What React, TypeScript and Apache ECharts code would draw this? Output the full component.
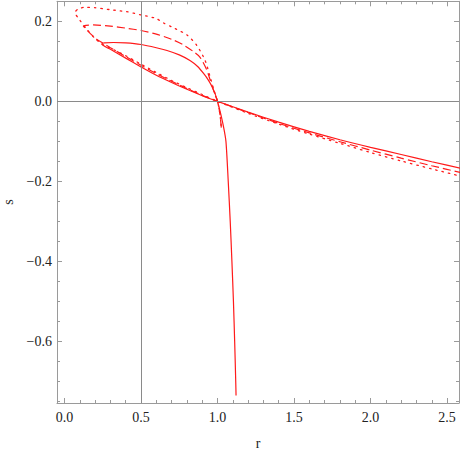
import React, { useEffect, useRef } from "react";
import * as echarts from "echarts";

// Solid curve (lower branch from the right, cusp, upper branch down to the end)
const solidR = [2.6, 2.4, 2.2, 2.0, 1.8, 1.6, 1.4, 1.2, 1.0, 0.9, 0.8, 0.7, 0.6, 0.5, 0.4, 0.3, 0.243,
  0.26, 0.32, 0.4, 0.5, 0.6, 0.67, 0.75, 0.82, 0.87, 0.91, 0.94, 0.965, 0.985, 1.0, 1.02, 1.04, 1.055,
  1.07, 1.083, 1.094, 1.104, 1.112, 1.119, 1.121];
const solidS = [-0.168, -0.151, -0.133, -0.115, -0.096, -0.075, -0.052, -0.027, 0.0, 0.014, 0.03, 0.047, 0.065, 0.086, 0.108, 0.13, 0.143,
  0.146, 0.147, 0.146, 0.142, 0.134, 0.127, 0.116, 0.102, 0.087, 0.069, 0.053, 0.036, 0.018, 0.0, -0.03, -0.065, -0.1,
  -0.2, -0.3, -0.4, -0.5, -0.6, -0.7, -0.735];

// Dashed curve
const dashedR = [2.6, 2.4, 2.2, 2.0, 1.8, 1.6, 1.4, 1.2, 1.0, 0.9, 0.8, 0.7, 0.6, 0.5, 0.4, 0.3, 0.25, 0.21, 0.167, 0.135, 0.123,
  0.14, 0.188, 0.3, 0.4, 0.5, 0.6, 0.7, 0.777, 0.84, 0.886, 0.93, 0.962, 0.985, 1.0, 1.015, 1.027];
const dashedS = [-0.179, -0.161, -0.142, -0.122, -0.101, -0.079, -0.055, -0.028, 0.0, 0.015, 0.032, 0.05, 0.069, 0.09, 0.112, 0.134, 0.146, 0.155, 0.17, 0.183, 0.188,
  0.19, 0.191, 0.188, 0.183, 0.177, 0.168, 0.155, 0.141, 0.125, 0.11, 0.078, 0.041, 0.015, 0.0, -0.03, -0.075];

// Dotted curve
const dottedR = [2.6, 2.4, 2.2, 2.0, 1.8, 1.6, 1.4, 1.2, 1.0, 0.9, 0.8, 0.7, 0.6, 0.5, 0.4, 0.3, 0.25, 0.2, 0.15, 0.1, 0.069,
  0.09, 0.13, 0.2, 0.3, 0.406, 0.5, 0.6, 0.646, 0.7, 0.8, 0.864, 0.918, 0.951, 0.975, 1.0, 1.015, 1.025];
const dottedS = [-0.188, -0.169, -0.149, -0.128, -0.105, -0.082, -0.057, -0.03, 0.0, 0.017, 0.034, 0.052, 0.072, 0.093, 0.114, 0.133, 0.142, 0.157, 0.178, 0.203, 0.222,
  0.231, 0.235, 0.234, 0.229, 0.224, 0.216, 0.207, 0.196, 0.186, 0.166, 0.14, 0.103, 0.062, 0.03, 0.0, -0.03, -0.065];

// Ticks
const xMajor = [0, 0.5, 1.0, 1.5, 2.0, 2.5];
const xMinor = [0.1, 0.2, 0.3, 0.4, 0.6, 0.7, 0.8, 0.9, 1.1, 1.2, 1.3, 1.4, 1.6, 1.7, 1.8, 1.9, 2.1, 2.2, 2.3, 2.4];
const yMajor = [-0.6, -0.4, -0.2, 0, 0.2];
const yMinor = [-0.75, -0.7, -0.65, -0.55, -0.5, -0.45, -0.35, -0.3, -0.25, -0.15, -0.1, -0.05, 0.05, 0.1, 0.15];

const X_MIN = -0.049, X_MAX = 2.578, Y_MIN = -0.754, Y_MAX = 0.25;
const FRAME = "#9a9a9a";
const FONT = "Liberation Serif";

function fmt(v: number) {
  const t = Math.abs(v).toFixed(1);
  return v < -1e-9 ? "\u2212" + t : t;
}

function makeAxis(dim: "x" | "y", position: string, ticks: number[], major: boolean, withLabel: boolean, name?: string) {
  const a: any = {
    type: "value",
    position,
    min: dim === "x" ? X_MIN : Y_MIN,
    max: dim === "x" ? X_MAX : Y_MAX,
    axisLine: { show: major, onZero: false, lineStyle: { color: FRAME, width: 1 } },
    axisTick: { show: true, inside: true, length: major ? 5 : 3, customValues: ticks, lineStyle: { color: FRAME, width: 1 } },
    axisLabel: withLabel
      ? {
          show: true,
          customValues: ticks,
          formatter: (v: number) => fmt(v),
          fontFamily: FONT,
          color: "#222",
          fontSize: 14,
          margin: dim === "x" ? 7 : 5,
        }
      : { show: false },
    splitLine: { show: false },
  };
  if (name) {
    a.name = name;
    a.nameLocation = "middle";
    a.nameTextStyle = { color: "#222", fontFamily: FONT, fontSize: 14 };
    if (dim === "x") {
      a.nameGap = 33;
    } else {
      a.nameGap = 40;
      a.nameRotate = 90;
    }
  }
  return a;
}

function toPairs(r: number[], s: number[]) {
  return r.map((v, i) => [v, s[i]]);
}

export default function App() {
  const ref = useRef<HTMLDivElement>(null);
  useEffect(() => {
    const chart = echarts.init(ref.current!, null, { renderer: "svg" });
    const red = "#ff1a1a";
    chart.setOption({
      animation: false,
      backgroundColor: "#fff",
      textStyle: { fontFamily: FONT },
      grid: { left: 57, right: 1, top: 1.3, bottom: 46, containLabel: false, outerBoundsMode: "none" },
      xAxis: [
        makeAxis("x", "bottom", xMajor, true, true, "r"),
        makeAxis("x", "bottom", xMinor, false, false),
        makeAxis("x", "top", xMajor, true, false),
        makeAxis("x", "top", xMinor, false, false),
      ],
      yAxis: [
        makeAxis("y", "left", yMajor, true, true, "s"),
        makeAxis("y", "left", yMinor, false, false),
        makeAxis("y", "right", yMajor, true, false),
        makeAxis("y", "right", yMinor, false, false),
      ],
      series: [
        {
          type: "line",
          data: [],
          silent: true,
          markLine: {
            silent: true,
            symbol: ["none", "none"],
            label: { show: false },
            lineStyle: { color: "#8a8a8a", width: 1, type: "solid" },
            data: [{ xAxis: 0.5 }, { yAxis: 0 }],
          },
        },
        {
          type: "line",
          data: toPairs(solidR, solidS),
          showSymbol: false,
          smooth: 0.25,
          clip: true,
          lineStyle: { color: red, width: 1.2 },
        },
        {
          type: "line",
          data: toPairs(dashedR, dashedS),
          showSymbol: false,
          smooth: 0.25,
          clip: true,
          lineStyle: { color: red, width: 1.2, type: [8, 4] },
        },
        {
          type: "line",
          data: toPairs(dottedR, dottedS),
          showSymbol: false,
          smooth: 0.25,
          clip: true,
          lineStyle: { color: red, width: 1.3, type: [1.5, 5], cap: "round" },
        },
      ],
    });
    return () => chart.dispose();
  }, []);
  return <div ref={ref} style={{ position: "fixed", left: 0, top: 0, width: 460, height: 449 }} />;
}
